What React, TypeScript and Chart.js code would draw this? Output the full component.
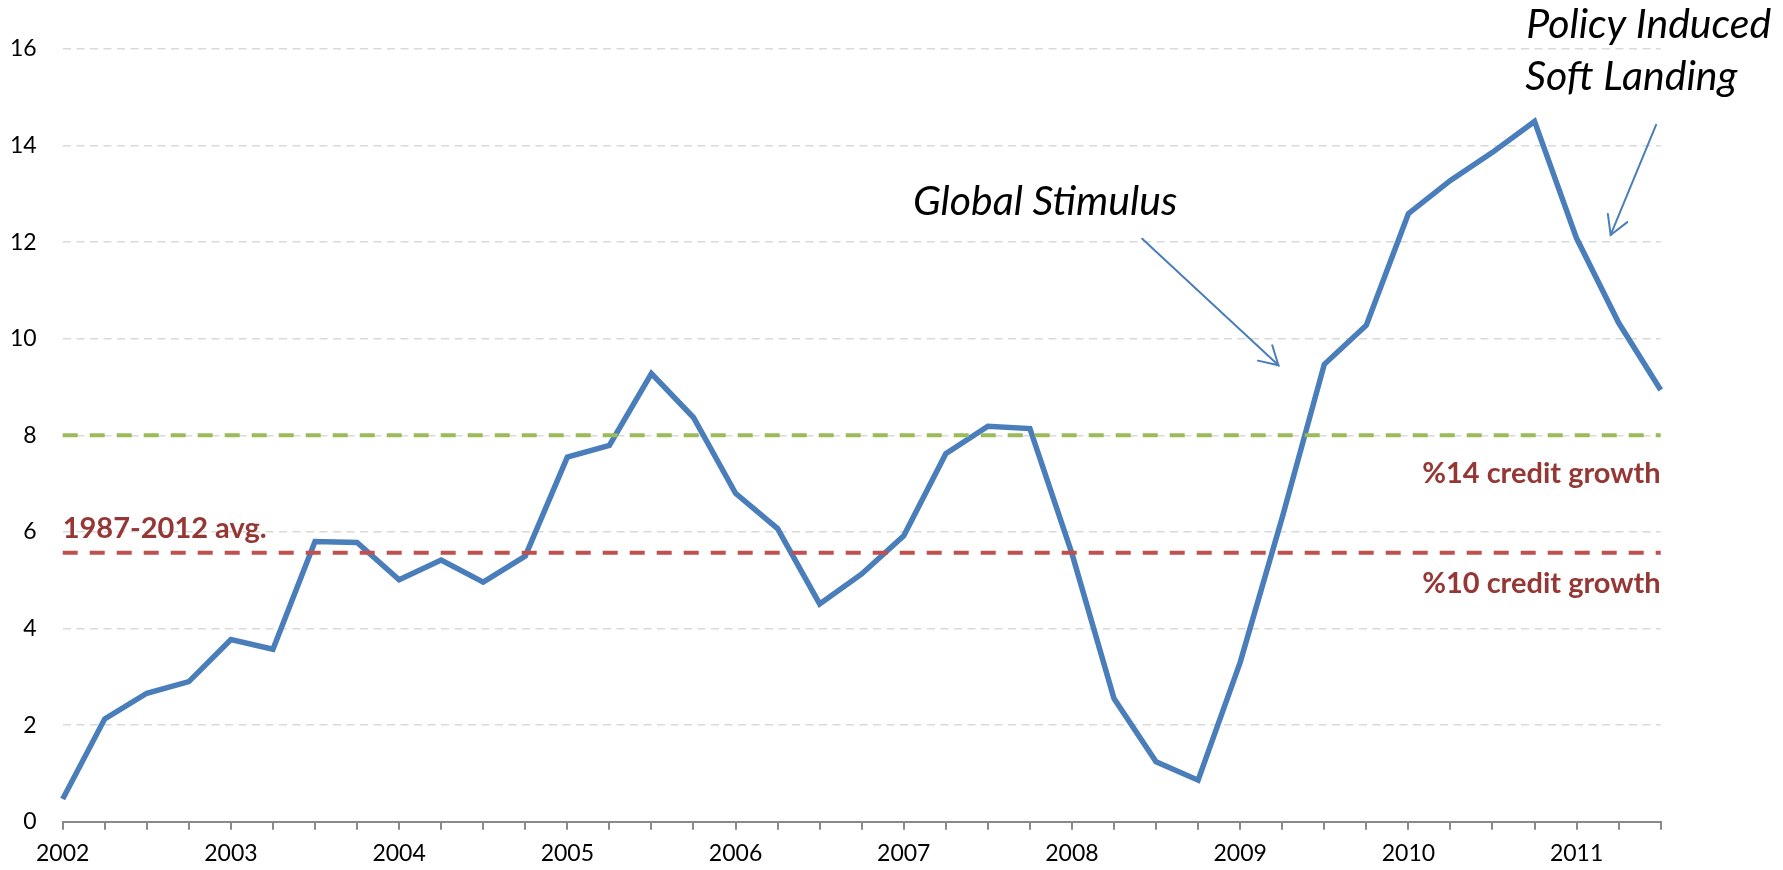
import React, { useEffect, useRef } from "react";
import { Chart, registerables } from "chart.js";

Chart.register(...registerables);

// ---- Data ----
const years = ["2002", "2003", "2004", "2005", "2006", "2007", "2008", "2009", "2010", "2011"];
const quarters = years.flatMap((yr) => ["Q1", "Q2", "Q3", "Q4"].map((q) => `${yr} ${q}`)).slice(0, 39);

const growthValues = [
  0.47, 2.13, 2.66, 2.9, 3.77, 3.57, 5.8, 5.78, 5.01, 5.42, 4.96, 5.5,
  7.55, 7.79, 9.28, 8.37, 6.8, 6.07, 4.51, 5.13, 5.92, 7.62, 8.19, 8.14,
  5.55, 2.55, 1.24, 0.86, 3.3, 6.3, 9.47, 10.28, 12.59, 13.28, 13.86, 14.5,
  12.08, 10.33, 8.94,
];

const credit14Level = 8.0;
const credit10Level = 5.57;

const yTicks = [0, 2, 4, 6, 8, 10, 12, 14, 16];

// Annotation texts, anchored in data space (x = quarter index, y = value)
const noteTexts = ["1987-2012 avg.", "%14 credit growth", "%10 credit growth", "Global Stimulus", "Policy Induced", "Soft Landing"];
const noteX = [0, 38, 38, 20.22, 34.8, 34.78];
const noteY = [5.87, 7.02, 4.73, 12.56, 16.23, 15.15];
const noteAlign: CanvasTextAlign[] = ["left", "right", "right", "left", "left", "left"];
const noteFont = [
  "bold 29px Lato",
  "bold 29px Lato",
  "bold 29px Lato",
  "italic 41px Lato",
  "italic 41px Lato",
  "italic 41px Lato",
];
const noteColor = ["#953735", "#953735", "#953735", "#000000", "#000000", "#000000"];

// Arrows: [fromX, fromY, toX, toY] in data space
const arrowFrom = [
  [25.67, 12.07],
  [37.89, 14.43],
];
const arrowTo = [
  [28.91, 9.45],
  [36.81, 12.15],
];

const annotationPlugin = {
  id: "notes",
  afterDatasetsDraw(chart: any) {
    const { ctx } = chart;
    const xs = chart.scales.x;
    const ys = chart.scales.y;
    ctx.save();
    noteTexts.forEach((t, i) => {
      ctx.font = noteFont[i];
      ctx.fillStyle = noteColor[i];
      ctx.textAlign = noteAlign[i];
      ctx.textBaseline = "alphabetic";
      ctx.fillText(t, xs.getPixelForValue(noteX[i]), ys.getPixelForValue(noteY[i]));
    });
    ctx.strokeStyle = "#4A7EBB";
    ctx.lineWidth = 2;
    ctx.lineCap = "round";
    arrowFrom.forEach((f, i) => {
      const x1 = xs.getPixelForValue(f[0]);
      const y1 = ys.getPixelForValue(f[1]);
      const x2 = xs.getPixelForValue(arrowTo[i][0]);
      const y2 = ys.getPixelForValue(arrowTo[i][1]);
      ctx.beginPath();
      ctx.moveTo(x1, y1);
      ctx.lineTo(x2, y2);
      ctx.stroke();
      const ang = Math.atan2(y1 - y2, x1 - x2);
      const len = 21;
      const spread = (30 * Math.PI) / 180;
      ctx.beginPath();
      ctx.moveTo(x2 + len * Math.cos(ang - spread), y2 + len * Math.sin(ang - spread));
      ctx.lineTo(x2, y2);
      ctx.lineTo(x2 + len * Math.cos(ang + spread), y2 + len * Math.sin(ang + spread));
      ctx.stroke();
    });
    ctx.restore();
  },
};

export default function App() {
  const ref = useRef<HTMLCanvasElement | null>(null);

  useEffect(() => {
    document.body.style.margin = "0";
    if (!ref.current) return;
    const chart = new Chart(ref.current, {
      type: "line",
      data: {
        labels: quarters,
        datasets: [
          {
            label: "%14 credit growth",
            data: quarters.map(() => credit14Level),
            borderColor: "#9BBB59",
            borderWidth: 4,
            borderDash: [15, 12],
            pointRadius: 0,
            order: 0,
          },
          {
            label: "%10 credit growth",
            data: quarters.map(() => credit10Level),
            borderColor: "#C0504D",
            borderWidth: 4,
            borderDash: [15, 12],
            pointRadius: 0,
            order: 1,
          },
          {
            label: "Growth",
            data: growthValues,
            borderColor: "#4A7EBB",
            borderWidth: 5.5,
            pointRadius: 0,
            tension: 0,
            borderJoinStyle: "miter",
            order: 2,
          },
        ],
      },
      options: {
        responsive: false,
        animation: false,
        events: [],
        layout: { padding: { left: 0, top: 49, right: 122.3, bottom: 0 } },
        plugins: {
          legend: { display: false },
          tooltip: { enabled: false },
          title: { display: false },
        },
        scales: {
          x: {
            type: "category",
            offset: false,
            afterFit: (s: any) => {
              s.height = 48.3;
            },
            grid: {
              display: true,
              drawOnChartArea: false,
              drawTicks: true,
              tickLength: 8,
              color: "#898989",
              lineWidth: 2,
            },
            border: { display: true, color: "#898989", width: 2 },
            ticks: {
              autoSkip: false,
              maxRotation: 0,
              padding: 10,
              color: "#000000",
              font: { family: "Lato", size: 23 },
              callback: (_v: any, i: number) => (i % 4 === 0 ? years[i / 4] : ""),
            },
          },
          y: {
            min: 0,
            max: 16,
            afterFit: (s: any) => {
              s.width = 62.7;
            },
            afterBuildTicks: (s: any) => {
              s.ticks = yTicks.map((v) => ({ value: v }));
            },
            grid: {
              color: "#D9D9D9",
              lineWidth: 1.5,
              drawTicks: false,
            },
            border: { display: false, dash: [8, 5.5] },
            ticks: {
              padding: 26,
              color: "#000000",
              font: { family: "Lato", size: 23 },
            },
          },
        },
      },
      plugins: [annotationPlugin],
    });
    return () => chart.destroy();
  }, []);

  return (
    <div style={{ width: 1783, height: 870, background: "#ffffff" }}>
      <canvas ref={ref} width={1783} height={870} style={{ display: "block" }} />
    </div>
  );
}
